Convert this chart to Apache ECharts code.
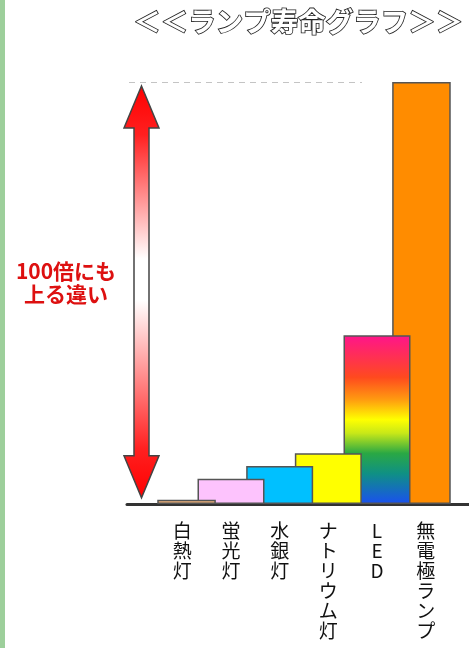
<!DOCTYPE html>
<html><head><meta charset="utf-8">
<script src="https://cdn.jsdelivr.net/npm/echarts@6/dist/echarts.min.js"></script>
<style>html,body{margin:0;padding:0;background:#fff}#c{width:469px;height:648px}</style>
</head><body><div id="c"></div>
<script>
// ---- data ----
const titleText = '＜＜ランプ寿命グラフ＞＞';
const noteText = '100倍にも\n上る違い';
const categories = ['白熱灯', '蛍光灯', '水銀灯', 'ナトリウム灯', 'LED', '無電極ランプ'];
const lifeHours = [1000, 6000, 9000, 12000, 40000, 100000];
const arrowFrom = 1000;
const arrowTo = 100000;
const yMax = 100000;

// ---- styles ----
const FONT = '"Noto Sans CJK JP", "Noto Sans", sans-serif';
const ledGradient = new echarts.graphic.LinearGradient(0, 0, 0, 1, [
  { offset: 0, color: '#ff148c' },
  { offset: 0.25, color: '#ff4a1e' },
  { offset: 0.38, color: '#ff9a10' },
  { offset: 0.5, color: '#ffff00' },
  { offset: 0.58, color: '#c8e818' },
  { offset: 0.7, color: '#2aa844' },
  { offset: 0.82, color: '#0f9084' },
  { offset: 1, color: '#1a50f0' }
]);
const barColors = ['#f2b47c', '#fdc3fd', '#00c0ff', '#ffff00', ledGradient, '#ff8c00'];
const arrowGradient = new echarts.graphic.LinearGradient(0, 0, 0, 1, [
  { offset: 0, color: '#ff0000' },
  { offset: 0.12, color: '#ff2020' },
  { offset: 0.42, color: '#ffffff' },
  { offset: 0.52, color: '#ffffff' },
  { offset: 0.88, color: '#ff2020' },
  { offset: 1, color: '#ff0000' }
]);

const chart = echarts.init(document.getElementById('c'), null, { renderer: 'canvas' });

// earlier categories are drawn on top of later ones
const barData = categories.map((c, i) => ({
  value: [c, lifeHours[i]],
  itemStyle: { color: barColors[i] }
})).reverse();

chart.setOption({
  animation: false,
  backgroundColor: '#ffffff',
  title: [{
    text: titleText, right: 4, top: 8, padding: 0,
    textStyle: { fontSize: 27.5, fontWeight: 'bold', color: '#ffffff',
      textBorderColor: '#222222', textBorderWidth: 1.7, fontFamily: FONT }
  }],
  graphic: [
    { type: 'rect', shape: { x: 0, y: 0, width: 5, height: 648 }, style: { fill: '#9dcf9b' } },
    { type: 'text', x: 66, y: 260, style: { text: noteText, align: 'center', verticalAlign: 'top',
      font: 'bold 21px ' + FONT, fill: '#dd1010', lineHeight: 23 } }
  ],
  grid: [
    { left: 158, right: 19, top: 82, bottom: 144 },
    { left: 127, right: 0, top: 82, bottom: 144 },
    { left: 129, right: 107, top: 82, bottom: 144 }
  ],
  xAxis: [
    { gridIndex: 0, type: 'category', data: categories,
      axisLine: { show: false }, axisTick: { show: false }, splitLine: { show: false },
      axisLabel: { interval: 0, formatter: s => s.split('').join('\n'), fontSize: 19, lineHeight: 20,
        color: '#111111', margin: 17, fontFamily: FONT } },
    { gridIndex: 1, type: 'value', min: 0, max: 1,
      axisLine: { show: true, onZero: false, lineStyle: { color: '#333333', width: 3 } },
      axisTick: { show: false }, axisLabel: { show: false }, splitLine: { show: false } },
    { gridIndex: 2, type: 'value', min: 0, max: 1, show: false }
  ],
  yAxis: [
    { gridIndex: 0, type: 'value', min: 0, max: yMax, show: false },
    { gridIndex: 1, type: 'value', min: 0, max: yMax, show: false },
    { gridIndex: 2, type: 'value', min: 0, max: yMax, interval: yMax,
      axisLine: { show: false }, axisTick: { show: false }, axisLabel: { show: false },
      splitLine: { show: true, showMinLine: false, lineStyle: { color: '#c4c4c4', type: [6, 5], width: 1 } } }
  ],
  series: [
    {
      type: 'custom', xAxisIndex: 1, yAxisIndex: 1, clip: false, z: 3,
      encode: { x: 0, y: [1, 2] },
      data: [[0, arrowFrom, arrowTo]],
      renderItem: function (params, api) {
        const yB = api.coord([0, api.value(1)])[1] - 2;
        const yT = api.coord([0, api.value(2)])[1] + 4;
        const cx = 141.5, hh = 17.5, sh = 7.5, hl = 42;
        const pts = [
          [cx, yT], [cx + hh, yT + hl], [cx + sh, yT + hl], [cx + sh, yB - hl], [cx + hh, yB - hl],
          [cx, yB], [cx - hh, yB - hl], [cx - sh, yB - hl], [cx - sh, yT + hl], [cx - hh, yT + hl]
        ];
        return { type: 'polygon', shape: { points: pts },
          style: { fill: arrowGradient, stroke: '#444444', lineWidth: 1.5 } };
      }
    },
    {
      type: 'bar', xAxisIndex: 0, yAxisIndex: 0, barWidth: 67, z: 2,
      itemStyle: { borderColor: '#555555', borderWidth: 1.5 },
      data: barData
    }
  ]
});
</script>
</body></html>
